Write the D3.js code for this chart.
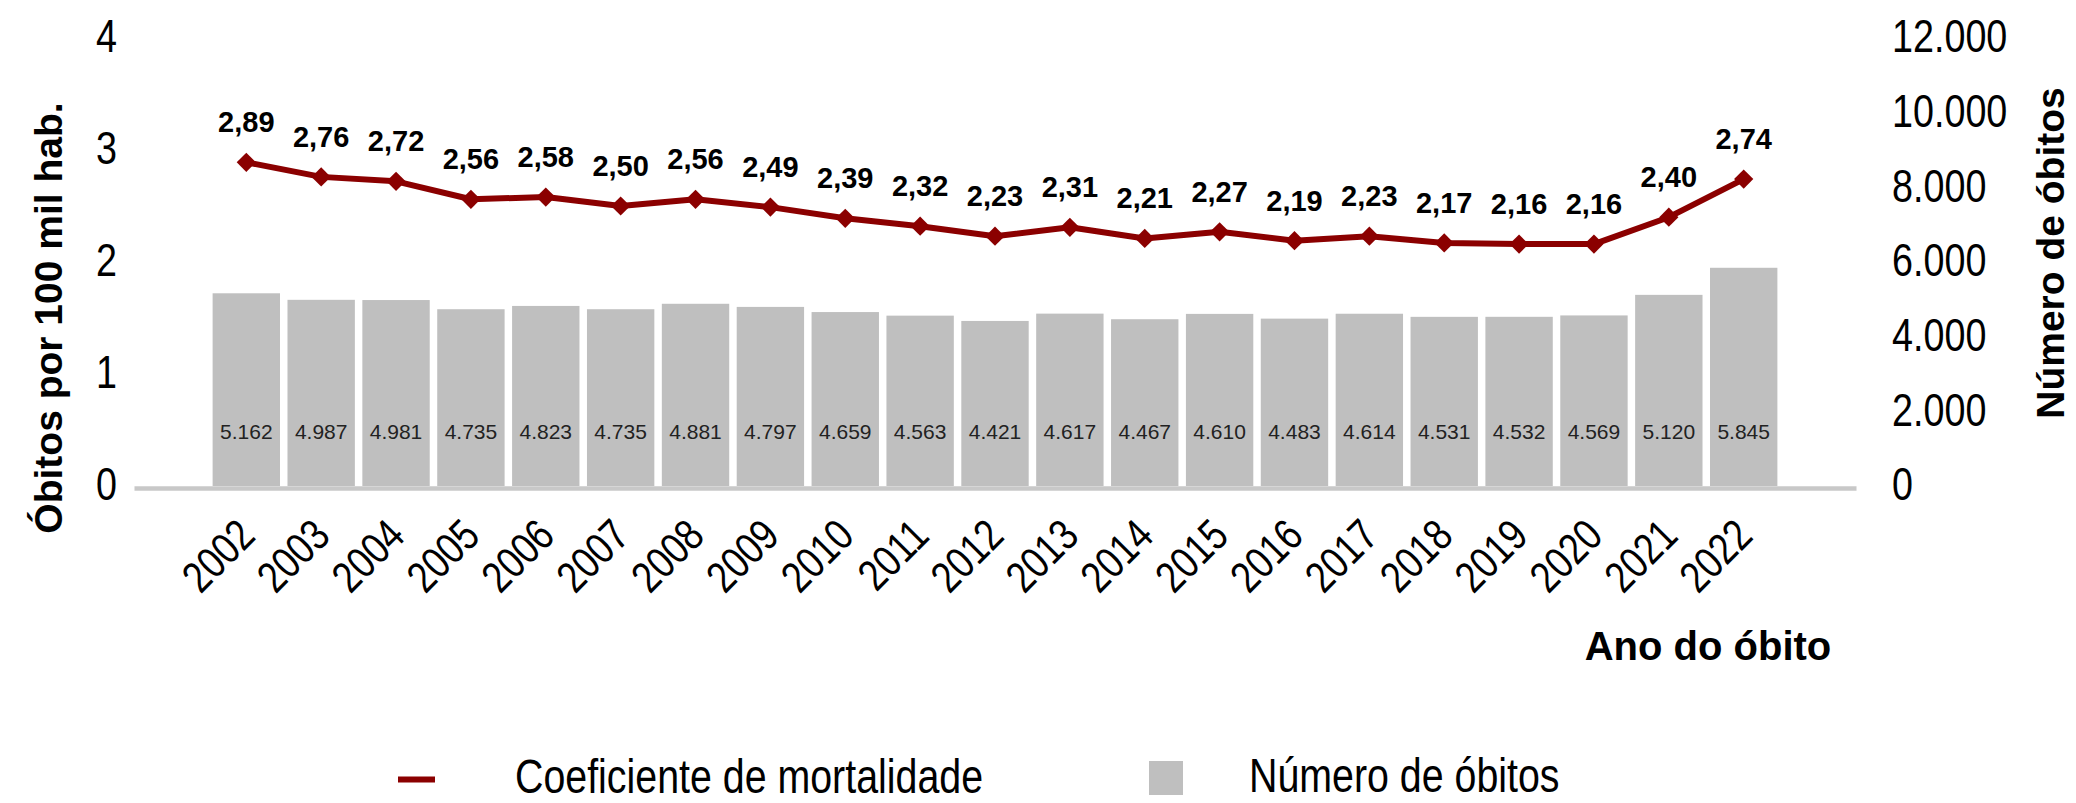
<!DOCTYPE html>
<html><head><meta charset="utf-8">
<script src="https://cdn.jsdelivr.net/npm/d3@7"></script>
<style>html,body{margin:0;padding:0;background:#fff;overflow:hidden}</style>
</head><body>
<svg id="chart" width="2076" height="803"></svg>
<script>
// ---- data ----
const years = ["2002","2003","2004","2005","2006","2007","2008","2009","2010","2011","2012","2013","2014","2015","2016","2017","2018","2019","2020","2021","2022"];
const rates = [2.89,2.76,2.72,2.56,2.58,2.50,2.56,2.49,2.39,2.32,2.23,2.31,2.21,2.27,2.19,2.23,2.17,2.16,2.16,2.40,2.74];
const deaths = [5162,4987,4981,4735,4823,4735,4881,4797,4659,4563,4421,4617,4467,4610,4483,4614,4531,4532,4569,5120,5845];
const leftTicks = [0,1,2,3,4];
const rightTicks = [0,2000,4000,6000,8000,10000,12000];
const seriesNames = ["Coeficiente de mortalidade","Número de óbitos"];
const leftTitle = "Óbitos por 100 mil hab.";
const rightTitle = "Número de óbitos";
const xTitle = "Ano do óbito";

// ---- style ----
const RED = "#8B0000", GREY = "#BFBFBF";
const SANS = "'Liberation Sans', Arial, sans-serif";
const NARROW = "'Liberation Sans Narrow', 'Arial Narrow', 'Liberation Sans', Arial, sans-serif";

const svg = d3.select("#chart");
const loc = d3.formatLocale({decimal: ",", thousands: ".", grouping: [3], currency: ["R$", ""]});
const fmtRate = loc.format(".2f");
const fmtInt = loc.format(",d");

// detect narrow font availability
function measure(fam) {
  const t = svg.append("text").attr("font-family", fam).attr("font-size", 100).text("0000000000");
  const w = t.node().getComputedTextLength(); t.remove(); return w;
}
const NX = (measure(NARROW) / measure(SANS) < 0.9) ? 1 : 0.82;

// ---- scales ----
const x = d3.scaleBand().domain(years).range([134, 1856]).paddingInner(0.1).paddingOuter(1.05);
const yL = d3.scaleLinear().domain([0, 4]).range([486, 38]);
const yR = d3.scaleLinear().domain([0, 12000]).range([486, 38]);
const bw = x.bandwidth();
const cx = d => x(d) + bw / 2;

// ---- bars ----
svg.append("g").selectAll("rect").data(deaths).join("rect")
  .attr("x", (d, i) => x(years[i])).attr("y", d => yR(d))
  .attr("width", bw).attr("height", d => yR(0) - yR(d))
  .attr("fill", GREY);

svg.append("g").selectAll("text").data(deaths).join("text")
  .attr("x", (d, i) => cx(years[i])).attr("y", yR(0) - 47)
  .attr("text-anchor", "middle").attr("font-family", SANS).attr("font-size", 21)
  .attr("fill", "#222").text(d => fmtInt(d));

// ---- axes ----
const gx = svg.append("g").attr("transform", "translate(0,488)")
  .call(d3.axisBottom(x).tickSize(0).tickSizeOuter(0));
gx.select(".domain").attr("stroke", "#C8C8C8").attr("stroke-width", 4.5);
gx.selectAll(".tick text")
  .attr("x", null).attr("y", null).attr("dy", null)
  .attr("transform", `translate(11,50) rotate(-45) scale(${NX},1)`)
  .attr("text-anchor", "end").attr("font-family", NARROW).attr("font-size", 44).attr("fill", "#000");

const gl = svg.append("g").attr("transform", "translate(117,0)")
  .call(d3.axisLeft(yL).tickValues(leftTicks).tickSize(0).tickPadding(0).tickFormat(d3.format("d")));
gl.select(".domain").remove();
gl.selectAll(".tick text").attr("dy", "0.3em").attr("font-family", NARROW).attr("font-size", 46)
  .attr("fill", "#000").attr("transform", `scale(${NX},1)`);

const gr = svg.append("g").attr("transform", "translate(1892,0)")
  .call(d3.axisRight(yR).tickValues(rightTicks).tickSize(0).tickPadding(0).tickFormat(fmtInt));
gr.select(".domain").remove();
gr.selectAll(".tick text").attr("dy", "0.3em").attr("font-family", NARROW).attr("font-size", 46)
  .attr("fill", "#000").attr("transform", `scale(${NX},1)`);

// ---- line ----
const line = d3.line().x((d, i) => cx(years[i])).y(d => yL(d));
svg.append("path").datum(rates).attr("d", line)
  .attr("fill", "none").attr("stroke", RED).attr("stroke-width", 6).attr("stroke-linejoin", "round");
svg.append("g").selectAll("path").data(rates).join("path")
  .attr("d", d3.symbol(d3.symbolSquare, 185))
  .attr("transform", (d, i) => `translate(${cx(years[i])},${yL(d)}) rotate(45)`)
  .attr("fill", RED);
svg.append("g").selectAll("text").data(rates).join("text")
  .attr("x", (d, i) => cx(years[i])).attr("y", d => yL(d) - 30)
  .attr("text-anchor", "middle").attr("font-family", SANS).attr("font-weight", "bold")
  .attr("font-size", 29).attr("fill", "#000").text(d => fmtRate(d));

// ---- titles ----
svg.append("text").attr("transform", "translate(62,318) rotate(-90)")
  .attr("text-anchor", "middle").attr("font-family", SANS).attr("font-weight", "bold")
  .attr("font-size", 39).attr("fill", "#000").text(leftTitle);
svg.append("text").attr("transform", "translate(2064,253) rotate(-90)")
  .attr("text-anchor", "middle").attr("font-family", SANS).attr("font-weight", "bold")
  .attr("font-size", 39).attr("fill", "#000").text(rightTitle);
svg.append("text").attr("x", 1708).attr("y", 660)
  .attr("text-anchor", "middle").attr("font-family", SANS).attr("font-weight", "bold")
  .attr("font-size", 40).attr("fill", "#000").text(xTitle);

// ---- legend ----
const lg = svg.append("g").attr("transform", "translate(0,-7)");
lg.append("line").attr("x1", 398).attr("x2", 435).attr("y1", 786.5).attr("y2", 786.5)
  .attr("stroke", RED).attr("stroke-width", 6);
lg.append("text").attr("transform", `translate(515,800) scale(${NX},1)`)
  .attr("font-family", NARROW).attr("font-size", 48).attr("fill", "#000").text(seriesNames[0]);
lg.append("rect").attr("x", 1149).attr("y", 768).attr("width", 34).attr("height", 34).attr("fill", GREY);
lg.append("text").attr("transform", `translate(1249,799) scale(${NX},1)`)
  .attr("font-family", NARROW).attr("font-size", 48).attr("fill", "#000").text(seriesNames[1]);
</script>
</body></html>
